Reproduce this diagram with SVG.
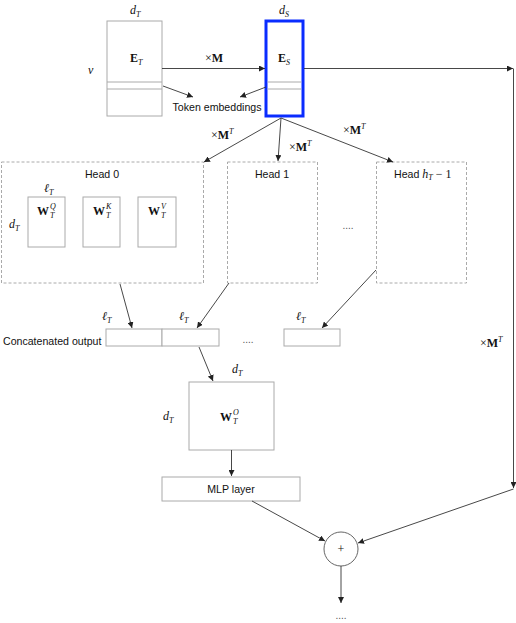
<svg xmlns="http://www.w3.org/2000/svg" width="516" height="623" viewBox="0 0 516 623">
<defs>
<marker id="ah" markerWidth="6" markerHeight="6" refX="6" refY="3" orient="auto" markerUnits="userSpaceOnUse">
<path d="M0,0 L6,3 L0,6 z" fill="#222"/>
</marker>
<style>
.box{fill:#fff;stroke:#aaa;stroke-width:1}
.dash{fill:#fff;stroke:#aaa;stroke-width:1;stroke-dasharray:3,2}
.blue{fill:#fff;stroke:#0a2cff;stroke-width:3}
.in{stroke:#aaa;stroke-width:1;fill:none}
.c{stroke:#333;stroke-width:0.9;fill:none;marker-end:url(#ah)}
.s{font-family:"Liberation Sans",Arial,sans-serif;font-size:10.6px;fill:#111}
.m{font-family:"Liberation Serif","Times New Roman",serif;font-style:italic;font-size:12px;fill:#111}
.b{font-family:"Liberation Serif","Times New Roman",serif;font-weight:bold;font-size:12px;fill:#111}
.r{font-family:"Liberation Serif","Times New Roman",serif;font-size:12px;fill:#111}
.sub{font-family:"Liberation Serif","Times New Roman",serif;font-style:italic;font-size:8px;fill:#111}
.dots{font-family:"Liberation Sans",Arial,sans-serif;font-size:10px;fill:#555}
</style>
</defs>

<g id="ET">
<rect class="box" x="107" y="21" width="55" height="95"/>
<line class="in" x1="107" y1="82" x2="162" y2="82"/>
<line class="in" x1="107" y1="89" x2="162" y2="89"/>
<text class="b" x="130" y="62">E<tspan class="sub" dy="3" font-weight="normal">T</tspan></text>
<text class="m" x="130" y="14">d<tspan class="sub" dy="3">T</tspan></text>
<text class="m" x="88" y="74">v</text>
</g>

<g id="ES">
<rect class="blue" x="266" y="21" width="37" height="95"/>
<line class="in" x1="267.5" y1="82" x2="301.5" y2="82"/>
<line class="in" x1="267.5" y1="89" x2="301.5" y2="89"/>
<text class="b" x="278" y="62">E<tspan class="sub" dy="3" font-weight="normal">S</tspan></text>
<text class="m" x="279" y="14">d<tspan class="sub" dy="3">S</tspan></text>
</g>

<g id="token">
<text class="s" x="217" y="111" text-anchor="middle">Token embeddings</text>
</g>

<g id="head0">
<rect class="dash" x="1.5" y="162" width="202" height="121"/>
<text class="s" x="102" y="178" text-anchor="middle">Head 0</text>
<text class="m" x="44" y="192">ℓ<tspan class="sub" dy="3">T</tspan></text>
<text class="m" x="9" y="228">d<tspan class="sub" dy="3">T</tspan></text>
<rect class="box" x="28" y="197" width="37" height="50"/>
<rect class="box" x="83" y="197" width="37" height="50"/>
<rect class="box" x="138" y="197" width="38" height="50"/>
<text class="b" x="37" y="215">W</text><text class="sub" x="50" y="209">Q</text><text class="sub" x="50" y="218">T</text>
<text class="b" x="93" y="215">W</text><text class="sub" x="106" y="209">K</text><text class="sub" x="106" y="218">T</text>
<text class="b" x="148" y="215">W</text><text class="sub" x="161" y="209">V</text><text class="sub" x="161" y="218">T</text>
</g>

<g id="head1">
<rect class="dash" x="227.5" y="162" width="90" height="121"/>
<text class="s" x="272" y="178" text-anchor="middle">Head 1</text>
</g>

<g id="dots1"><text class="dots" x="348" y="229" text-anchor="middle">....</text></g>

<g id="headh">
<rect class="dash" x="376.5" y="162" width="90" height="121"/>
<text class="s" x="394" y="178">Head <tspan class="m" font-size="11.5px">h</tspan><tspan class="sub" dy="2">T</tspan><tspan class="r" dy="-2" font-size="11.5px"> − 1</tspan></text>
</g>

<g id="concat">
<text class="s" x="3" y="345">Concatenated output</text>
<rect class="box" x="106" y="329" width="56" height="17"/>
<rect class="box" x="162" y="329" width="57" height="17"/>
<rect class="box" x="284" y="329" width="56" height="17"/>
<text class="m" x="102" y="320">ℓ<tspan class="sub" dy="3">T</tspan></text>
<text class="m" x="179" y="320">ℓ<tspan class="sub" dy="3">T</tspan></text>
<text class="m" x="296" y="320">ℓ<tspan class="sub" dy="3">T</tspan></text>
<text class="dots" x="248" y="343" text-anchor="middle">....</text>
</g>

<g id="WO">
<rect class="box" x="189" y="382" width="85" height="68"/>
<text class="b" x="220" y="421">W</text><text class="sub" x="233" y="415">O</text><text class="sub" x="233" y="424">T</text>
<text class="m" x="232" y="373">d<tspan class="sub" dy="3">T</tspan></text>
<text class="m" x="163" y="420">d<tspan class="sub" dy="3">T</tspan></text>
</g>

<g id="mlp">
<rect class="box" x="162" y="477" width="138" height="24"/>
<text class="s" x="231" y="493" text-anchor="middle">MLP layer</text>
</g>

<g id="plus">
<circle cx="341" cy="549" r="17" fill="#fff" stroke="#555" stroke-width="0.9"/>
<text class="r" x="341" y="553" text-anchor="middle" font-size="9px" fill="#555">+</text>
</g>

<g id="enddots"><text class="dots" x="341" y="619" text-anchor="middle">....</text></g>

<g id="connectors">
<line class="c" x1="162" y1="68.5" x2="265" y2="68.5"/>
<text class="r" x="205" y="62">×<tspan class="b">M</tspan></text>
<line class="c" x1="163" y1="86" x2="193" y2="97"/>
<line class="c" x1="266" y1="87" x2="240" y2="97"/>
<line class="c" x1="304" y1="68.5" x2="513" y2="68.5"/>
<line class="c" x1="513.5" y1="68.5" x2="513.5" y2="488"/>
<line class="c" x1="513.5" y1="489" x2="358" y2="543"/>
<text class="r" x="480" y="347">×<tspan class="b">M</tspan><tspan class="sub" dy="-5" font-size="7.5px">T</tspan></text>

<line class="c" x1="281" y1="118" x2="204" y2="162"/>
<line class="c" x1="281" y1="118" x2="278" y2="161"/>
<line class="c" x1="281" y1="118" x2="393" y2="162"/>
<text class="r" x="211" y="139">×<tspan class="b">M</tspan><tspan class="sub" dy="-5" font-size="7.5px">T</tspan></text>
<text class="r" x="289" y="151">×<tspan class="b">M</tspan><tspan class="sub" dy="-5" font-size="7.5px">T</tspan></text>
<text class="r" x="343" y="134">×<tspan class="b">M</tspan><tspan class="sub" dy="-5" font-size="7.5px">T</tspan></text>

<line class="c" x1="120" y1="284" x2="132" y2="328"/>
<line class="c" x1="229" y1="283" x2="197" y2="328"/>
<line class="c" x1="376" y1="270" x2="322" y2="328"/>
<line class="c" x1="199" y1="347" x2="213" y2="381"/>
<line class="c" x1="231.5" y1="450" x2="231.5" y2="476"/>
<line class="c" x1="252" y1="501" x2="325" y2="541"/>
<line class="c" x1="341" y1="566" x2="341" y2="603"/>
</g>
</svg>
